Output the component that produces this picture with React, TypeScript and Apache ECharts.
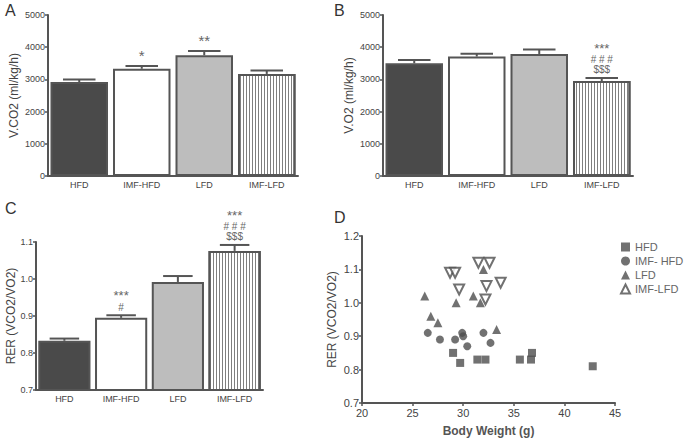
import React, { useEffect, useRef } from "react";
import * as echarts from "echarts";

const categories = ["HFD", "IMF-HFD", "LFD", "IMF-LFD"];

const vco2Mean = [2920, 3330, 3750, 3170];
const vco2Err = [80, 85, 130, 110];
const vco2Sig = [[], ["*"], ["**"], []];

const vo2Mean = [3500, 3710, 3790, 2950];
const vo2Err = [100, 90, 140, 95];
const vo2Sig = [[], [], [], ["***", "# # #", "$$$"]];

const rerMean = [0.833, 0.895, 0.992, 1.076];
const rerErr = [0.006, 0.007, 0.016, 0.016];
const rerSig = [[], ["***", "#"], [], ["***", "# # #", "$$$"]];

const hfdPts = [[29.0, 0.85], [29.7, 0.82], [31.4, 0.83], [32.2, 0.83], [35.6, 0.83], [36.7, 0.83], [36.8, 0.85], [42.8, 0.81]];
const imfHfdPts = [[26.5, 0.91], [27.7, 0.89], [29.2, 0.89], [29.9, 0.91], [30.0, 0.9], [30.4, 0.87], [32.0, 0.91], [32.7, 0.88]];
const lfdPts = [[26.2, 1.02], [26.8, 0.96], [27.5, 0.94], [29.3, 1.0], [31.0, 1.02], [31.7, 1.0], [32.0, 1.1], [33.3, 0.92]];
const imfLfdPts = [[28.7, 1.09], [29.2, 1.09], [29.6, 1.04], [31.5, 1.12], [32.6, 1.12], [32.3, 1.05], [32.2, 1.01], [33.7, 1.06]];

const FONT = "Liberation Sans, Arial, sans-serif";
const AX = "#555555";
const MK = "#4d4d4d";

const barStyles = [
  { color: "#4a4a4a", borderColor: AX, borderWidth: 2 },
  { color: "#ffffff", borderColor: AX, borderWidth: 2 },
  { color: "#bdbdbd", borderColor: AX, borderWidth: 2 },
  {
    color: "#ffffff",
    borderColor: AX,
    borderWidth: 2,
    decal: {
      symbol: "rect",
      symbolSize: 1,
      dashArrayX: [1, 2],
      dashArrayY: [4, 0],
      color: "#7f7f7f",
      backgroundColor: "#ffffff",
    },
  },
];

function barPanel(idx: number, means: number[], errs: number[], sig: string[][], sigSize: number) {
  const bar = {
    type: "bar",
    xAxisIndex: idx,
    yAxisIndex: idx,
    barCategoryGap: "8%",
    data: means.map((v, i) => ({ value: v, itemStyle: barStyles[i] })),
    z: 2,
  };
  const err = {
    type: "custom",
    xAxisIndex: idx,
    yAxisIndex: idx,
    z: 5,
    data: means.map((v, i) => [i, v, errs[i]]),
    renderItem: (params: any, api: any) => {
      const i = api.value(0);
      const m = api.value(1);
      const e = api.value(2);
      const p0 = api.coord([i, m]);
      const p1 = api.coord([i, m + e]);
      const bw = api.size([1, 0])[0];
      const hw = bw * 0.26;
      const children: any[] = [
        { type: "line", shape: { x1: p0[0], y1: p0[1], x2: p1[0], y2: p1[1] }, style: { stroke: AX, lineWidth: 2 } },
        { type: "line", shape: { x1: p1[0] - hw, y1: p1[1], x2: p1[0] + hw, y2: p1[1] }, style: { stroke: AX, lineWidth: 2 } },
      ];
      const marks = sig[params.dataIndex] || [];
      marks.forEach((t, k) => {
        children.push({
          type: "text",
          x: p1[0],
          y: p1[1] - 3 - (marks.length - 1 - k) * 10,
          style: {
            text: t,
            textAlign: "center",
            textVerticalAlign: "bottom",
            fontSize: t.startsWith("*") ? sigSize : 10,
            fontFamily: FONT,
            fill: "#666",
          },
        });
      });
      return { type: "group", children };
    },
  };
  return [bar, err];
}

function catAxis(idx: number) {
  return {
    type: "category",
    gridIndex: idx,
    data: categories,
    axisLine: { lineStyle: { color: AX, width: 2 } },
    axisTick: { alignWithLabel: true, length: 3, lineStyle: { color: AX, width: 1.5 } },
    axisLabel: { color: "#444", fontSize: 9, fontFamily: FONT, margin: 4 },
  };
}

function valAxis(idx: number, min: number, max: number, interval: number, name: string, nameGap: number, fmt: (v: number) => string, fs = 9) {
  return {
    type: "value",
    gridIndex: idx,
    min,
    max,
    interval,
    name,
    nameLocation: "middle",
    nameGap,
    nameTextStyle: { color: "#444", fontSize: 12, fontFamily: FONT },
    splitLine: { show: false },
    axisLine: { show: true, lineStyle: { color: AX, width: 2 } },
    axisTick: { show: true, length: 3, lineStyle: { color: AX, width: 1.5 } },
    axisLabel: { color: "#444", fontSize: fs, fontFamily: FONT, margin: 3, formatter: fmt },
  };
}

const fmt0 = (v: number) => String(Math.round(v));
const fmt1 = (v: number) => v.toFixed(1);

export default function App() {
  const ref = useRef<HTMLDivElement>(null);
  useEffect(() => {
    if (!ref.current) return;
    const chart = echarts.init(ref.current, undefined, { renderer: "svg" });
    const scatterBase = { type: "scatter", xAxisIndex: 3, yAxisIndex: 3, symbolSize: 8 };
    chart.setOption({
      animation: false,
      textStyle: { fontFamily: FONT },
      grid: [
        { left: 48, top: 15, width: 250, height: 161 },
        { left: 383, top: 15, width: 250, height: 161 },
        { left: 36, top: 242, width: 227, height: 148 },
        { left: 362, top: 236, width: 253, height: 167 },
      ],
      xAxis: [
        catAxis(0),
        catAxis(1),
        catAxis(2),
        {
          type: "value",
          gridIndex: 3,
          min: 20,
          max: 45,
          interval: 5,
          name: "Body Weight (g)",
          nameLocation: "middle",
          nameGap: 22,
          nameTextStyle: { color: "#555", fontSize: 12, fontWeight: "bold", fontFamily: FONT },
          splitLine: { show: false },
          axisLine: { lineStyle: { color: AX, width: 2 } },
          axisTick: { length: 3, lineStyle: { color: AX, width: 1.5 } },
          axisLabel: { color: "#444", fontSize: 11, fontFamily: FONT, margin: 4 },
        },
      ],
      yAxis: [
        valAxis(0, 0, 5000, 1000, "V.CO2 (ml/kg/h)", 28, fmt0),
        valAxis(1, 0, 5000, 1000, "V.O2 (ml/kg/h)", 28, fmt0),
        valAxis(2, 0.7, 1.1, 0.1, "RER (VCO2/VO2)", 18, fmt1),
        valAxis(3, 0.7, 1.2, 0.1, "RER (VCO2/VO2)", 24, fmt1, 11),
      ],
      legend: {
        orient: "vertical",
        left: 615,
        top: 236,
        itemGap: 2,
        itemWidth: 9,
        itemHeight: 9,
        textStyle: { color: "#666", fontSize: 11, fontFamily: FONT, lineHeight: 12 },
        data: ["HFD", "IMF- HFD", "LFD", "IMF-LFD"],
      },
      series: [
        ...barPanel(0, vco2Mean, vco2Err, vco2Sig, 15),
        ...barPanel(1, vo2Mean, vo2Err, vo2Sig, 13),
        ...barPanel(2, rerMean, rerErr, rerSig, 13),
        { ...scatterBase, name: "HFD", symbol: "rect", data: hfdPts, itemStyle: { color: MK } },
        { ...scatterBase, name: "IMF- HFD", symbol: "circle", data: imfHfdPts, itemStyle: { color: MK } },
        { ...scatterBase, name: "LFD", symbol: "triangle", symbolSize: 9, data: lfdPts, itemStyle: { color: MK } },
        {
          ...scatterBase,
          name: "IMF-LFD",
          symbol: "triangle",
          symbolRotate: 180,
          symbolSize: 10,
          data: imfLfdPts,
          itemStyle: { color: "#fff", borderColor: MK, borderWidth: 2 },
        },
      ],
      graphic: [
        { type: "text", left: 5, top: 2, style: { text: "A", fontSize: 16, fontFamily: FONT, fill: "#333" } },
        { type: "text", left: 334, top: 2, style: { text: "B", fontSize: 16, fontFamily: FONT, fill: "#333" } },
        { type: "text", left: 5, top: 200, style: { text: "C", fontSize: 16, fontFamily: FONT, fill: "#333" } },
        { type: "text", left: 334, top: 209, style: { text: "D", fontSize: 16, fontFamily: FONT, fill: "#333" } },
      ],
    });
    return () => chart.dispose();
  }, []);
  return <div ref={ref} style={{ position: "fixed", left: 0, top: 0, width: 688, height: 440, background: "#fff" }} />;
}
